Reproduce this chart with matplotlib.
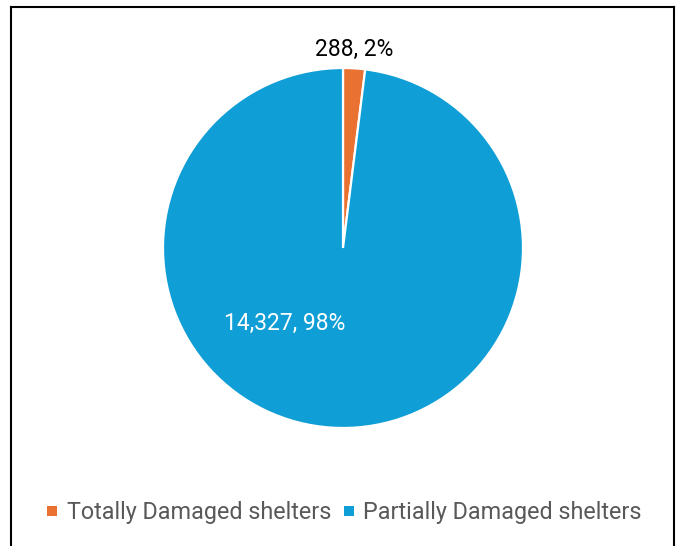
import matplotlib.pyplot as plt
from matplotlib.patches import Patch
from matplotlib.lines import Line2D

plt.rcParams['font.family'] = ['Roboto', 'DejaVu Sans']

# shelter damage counts
categories = ['Totally Damaged shelters', 'Partially Damaged shelters']
counts = [288, 14327]
colors = ['#E97132', '#0F9ED5']

W, H = 682, 546
fig = plt.figure(figsize=(W / 100, H / 100), dpi=100)

# pie centred at (343, 248) px, radius 180 px
cx, cy, r = 343, 248, 180
ax = fig.add_axes([(cx - r) / W, (H - cy - r) / H, 2 * r / W, 2 * r / H])
wedges, _ = ax.pie(counts, colors=colors, startangle=90, counterclock=False,
                   wedgeprops=dict(edgecolor='white', linewidth=1.6))
ax.set_xlim(-1, 1)
ax.set_ylim(-1, 1)
ax.set_aspect('equal')
ax.axis('off')

total = sum(counts)
pcts = [round(c / total * 100) for c in counts]
ax.text(0.06, 1.105, f'{counts[0]:,}, {pcts[0]}%', ha='center', va='center',
        fontsize=16.5, color='black', clip_on=False)
ax.text(-0.325, -0.42, f'{counts[1]:,}, {pcts[1]}%', ha='center', va='center',
        fontsize=16.5, color='white')

handles = [Patch(facecolor=c, edgecolor='none') for c in colors]
leg = fig.legend(handles, categories, loc='center', bbox_to_anchor=(0.505, (H - 513) / H),
                 ncol=2, frameon=False, fontsize=16.8, handlelength=0.42, handleheight=0.28,
                 handletextpad=0.42, columnspacing=0.55)
for t in leg.get_texts():
    t.set_color('#595959')

# chart frame
x0, x1, y0 = 11 / W, 674 / W, (H - 7) / H
for xs, ys in [([x0, x0], [0, y0]), ([x0, x1], [y0, y0]), ([x1, x1], [y0, 0])]:
    fig.add_artist(Line2D(xs, ys, color='black', linewidth=1.5, transform=fig.transFigure))

fig.savefig('out.png', dpi=100)
